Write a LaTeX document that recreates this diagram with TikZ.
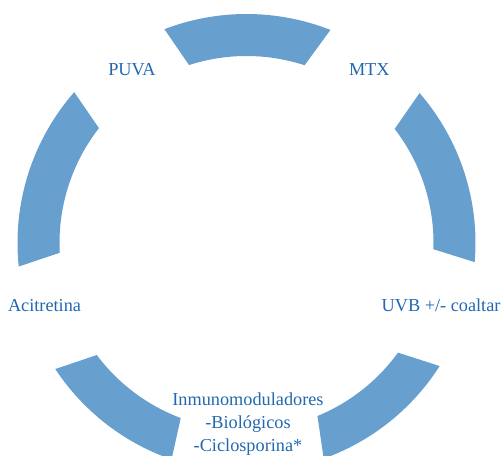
\documentclass[tikz,border=0pt]{standalone}
\usepackage{fontspec}
\setmainfont{Liberation Serif}
\definecolor{arcblue}{RGB}{103,159,206}
\definecolor{txtblue}{RGB}{33,104,176}

\begin{document}
\begin{tikzpicture}[x=0.75pt,y=0.75pt,
  every node/.style={inner sep=0pt, outer sep=0pt, text=txtblue, font=\fontsize{13.7}{17.5}\selectfont},
  seg/.style={fill=arcblue}]
\useasboundingbox (0,0) rectangle (503,456);
\clip (0,0) rectangle (503,456);

\fill[seg,shift={(246.5,213)}] (68.5:229) arc[start angle=68.5,end angle=111.0,radius=229] -- (107.9:187) arc[start angle=107.9,end angle=71.9,radius=187] -- cycle;
\fill[seg,shift={(246.5,213)}] (-4.8:229) arc[start angle=-4.8,end angle=40.9,radius=229] -- (37.6:187) arc[start angle=37.6,end angle=-1.9,radius=187] -- cycle;
\fill[seg,shift={(246.5,213)}] (-70.3:229) arc[start angle=-70.3,end angle=-32.5,radius=229] -- (-35.9:187) arc[start angle=-35.9,end angle=-67.7,radius=187] -- cycle;
\fill[seg,shift={(246.5,213)}] (213.4:229) arc[start angle=213.4,end angle=250.9,radius=229] -- (249.4:187) arc[start angle=249.4,end angle=216.8,radius=187] -- cycle;
\fill[seg,shift={(246.5,213)}] (138.8:229) arc[start angle=138.8,end angle=185.9,radius=229] -- (183.0:187) arc[start angle=183.0,end angle=142.1,radius=187] -- cycle;

\node[anchor=base west] (puva) at (108.3,380.3) {PUVA};
\node[anchor=base west] (mtx) at (349,380.3) {MTX};
\node[anchor=base east] (uvb) at (500.5,144.3) {UVB +/- coaltar};
\node[anchor=base west] (acit) at (8,144.3) {Acitretina};
\node[anchor=base, align=center] (inmuno) at (248,4.3) {Inmunomoduladores\\-Biológicos\\-Ciclosporina*};
\end{tikzpicture}
\end{document}
